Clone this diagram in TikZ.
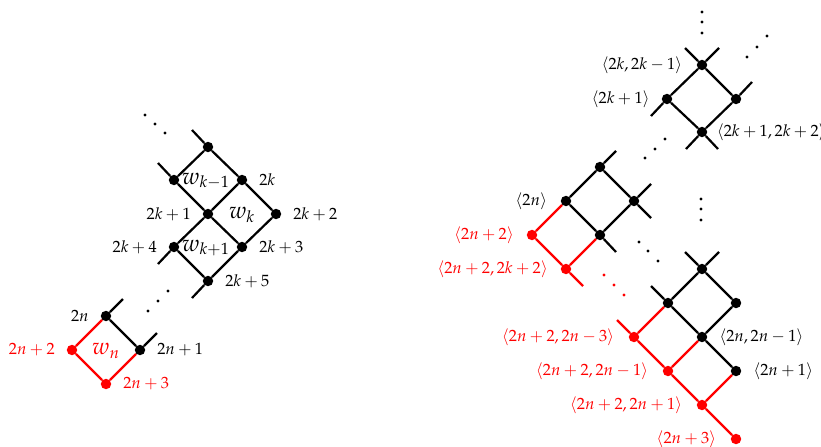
\documentclass[tikz,border=0pt]{standalone}
\usepackage{mathpazo}
\usepackage{xcolor}
\usepackage{tikz}
\usetikzlibrary{positioning}
\tikzset{
  vtx/.style={circle, fill=black, inner sep=0pt, minimum size=6.4pt},
  rvtx/.style={vtx, fill=red},
  lnk/.style={line width=1.35pt, draw=black},
  rlnk/.style={lnk, draw=red},
  tag/.style={inner sep=0pt, font=\normalsize},
  rtag/.style={tag, text=red},
  wlab/.style={inner sep=0pt, font=\Large},
}
\begin{document}
\begin{tikzpicture}[x=0.613pt, y=-0.613pt]

\useasboundingbox (0,0) rectangle (821,447);

%% =====================================================================
%% Left: chain of squares w_{k-1}, w_k, w_{k+1}, ..., w_n
%% =====================================================================
\node[vtx] (lA) at (208,147) {};
\node[vtx] (lB) at (174,180) {};
\node[vtx] (lC) at (242,180) {};
\node[vtx] (lD) at (208,214) {};
\node[vtx] (lE) at (276,214) {};
\node[vtx] (lF) at (174,247) {};
\node[vtx] (lG) at (242,247) {};
\node[vtx] (lH) at (208,281) {};

\node[tag, right=7pt of lC] (tC) {$2k$};
\node[tag, left=7pt of lD] (tD) {$2k+1$};
\node[tag, right=7pt of lE] (tE) {$2k+2$};
\node[tag, left=7pt of lF] (tF) {$2k+4$};
\node[tag, right=7pt of lG] (tG) {$2k+3$};
\node[tag, right=7pt of lH] (tH) {$2k+5$};

\node[wlab] (w1) at (206,181) {$w_{k-1}$};
\node[wlab] (w2) at (242,215) {$w_{k}$};
\node[wlab] (w3) at (206,248) {$w_{k+1}$};

\draw[lnk] (lA) -- (lB);
\draw[lnk] (lA) -- (lC);
\draw[lnk] (lB) -- (lD);
\draw[lnk] (lC) -- (lD);
\draw[lnk] (lC) -- (lE);
\draw[lnk] (lD) -- (lF);
\draw[lnk] (lD) -- (lG);
\draw[lnk] (lE) -- (lG);
\draw[lnk] (lF) -- (lH);
\draw[lnk] (lG) -- (lH);
\draw[lnk] (lA) -- ++(-16,-17);
\draw[lnk] (lB) -- ++(-16,-17);
\draw[lnk] (lF) -- ++(-16,17);
\draw[lnk] (lH) -- ++(-16,17);

\node[vtx] (lI) at (106,316) {};
\node[vtx] (lJ) at (140,350) {};
\node[rvtx] (lK) at (72,350) {};
\node[rvtx] (lL) at (106,384) {};

\node[tag, left=7pt of lI] (tI) {$2n$};
\node[tag, right=7pt of lJ] (tJ) {$2n+1$};
\node[rtag, left=7pt of lK] (tK) {$2n+2$};
\node[rtag, right=7pt of lL] (tL) {$2n+3$};
\node[wlab, text=red] (w4) at (106,351) {$w_{n}$};

\draw[lnk] (lI) -- (lJ);
\draw[lnk] (lI) -- ++(17,-17);
\draw[lnk] (lJ) -- ++(17,-17);
\draw[rlnk] (lI) -- (lK);
\draw[rlnk] (lK) -- (lL);
\draw[rlnk] (lJ) -- (lL);

\foreach \x/\y in {145/115,155/124,165/133, 148/311,158/301,168/291}
  \fill (\x,\y) circle (0.95pt);

%% =====================================================================
%% Right: pairs <i,j>, top block
%% =====================================================================
\node[vtx] (rA) at (702,65) {};
\node[vtx] (rB) at (667,99) {};
\node[vtx] (rC) at (736,99) {};
\node[vtx] (rD) at (702,132) {};

\node[tag, left=8.5pt of rA] (sA) {$\langle 2k, 2k-1\rangle$};
\node[tag, left=7pt of rB] (sB) {$\langle 2k+1\rangle$};
\node[tag, right=5.5pt of rD] (sD) {$\langle 2k+1, 2k+2\rangle$};

\draw[lnk] (rA) -- (rB);
\draw[lnk] (rA) -- (rC);
\draw[lnk] (rB) -- (rD);
\draw[lnk] (rC) -- (rD);
\draw[lnk] (rA) -- ++(-17,-17);
\draw[lnk] (rA) -- ++(17,-17);
\draw[lnk] (rB) -- ++(-16,17);
\draw[lnk] (rC) -- ++(16,-17);
\draw[lnk] (rD) -- ++(-16,17);
\draw[lnk] (rD) -- ++(16,17);

%% middle block
\node[vtx] (mA) at (600,167) {};
\node[vtx] (mB) at (566,201) {};
\node[vtx] (mC) at (634,201) {};
\node[vtx] (mD) at (600,235) {};
\node[rvtx] (mE) at (532,235) {};
\node[rvtx] (mF) at (566,269) {};

\node[tag, left=8pt of mB] (nB) {$\langle 2n\rangle$};
\node[rtag, left=7.5pt of mE] (nE) {$\langle 2n+2\rangle$};
\node[rtag, left=7.5pt of mF] (nF) {$\langle 2n+2, 2k+2\rangle$};

\draw[lnk] (mA) -- (mB);
\draw[lnk] (mA) -- (mC);
\draw[lnk] (mB) -- (mD);
\draw[lnk] (mC) -- (mD);
\draw[lnk] (mA) -- ++(16,-16);
\draw[lnk] (mC) -- ++(17,-17);
\draw[lnk] (mC) -- ++(17,17);
\draw[lnk] (mD) -- ++(16,17);
\draw[rlnk] (mB) -- (mE);
\draw[rlnk] (mE) -- (mF);
\draw[rlnk] (mD) -- (mF);
\draw[rlnk] (mF) -- ++(17,17);

%% bottom block
\node[vtx] (bA) at (702,269) {};
\node[vtx] (bB) at (668,303) {};
\node[vtx] (bC) at (736,303) {};
\node[vtx] (bD) at (702,337) {};
\node[vtx] (bE) at (736,371) {};
\node[rvtx] (bF) at (634,337) {};
\node[rvtx] (bG) at (668,371) {};
\node[rvtx] (bH) at (702,405) {};
\node[rvtx] (bI) at (736,439) {};

\node[tag, right=7pt of bD] (qD) {$\langle 2n, 2n-1\rangle$};
\node[tag, right=7pt of bE] (qE) {$\langle 2n+1\rangle$};
\node[rtag, left=8.5pt of bF] (qF) {$\langle 2n+2, 2n-3\rangle$};
\node[rtag, left=8.5pt of bG] (qG) {$\langle 2n+2, 2n-1\rangle$};
\node[rtag, left=8.5pt of bH] (qH) {$\langle 2n+2, 2n+1\rangle$};
\node[rtag, left=8.5pt of bI] (qI) {$\langle 2n+3\rangle$};

\draw[lnk] (bA) -- (bB);
\draw[lnk] (bA) -- (bC);
\draw[lnk] (bB) -- (bD);
\draw[lnk] (bC) -- (bD);
\draw[lnk] (bD) -- (bE);
\draw[lnk] (bA) -- ++(-17,-17);
\draw[lnk] (bA) -- ++(17,-17);
\draw[lnk] (bB) -- ++(-17,-17);
\draw[rlnk] (bB) -- (bF);
\draw[rlnk] (bF) -- (bG);
\draw[rlnk] (bD) -- (bG);
\draw[rlnk] (bG) -- (bH);
\draw[rlnk] (bE) -- (bH);
\draw[rlnk] (bH) -- (bI);
\draw[rlnk] (bF) -- ++(-17,-17);

%% dots
\foreach \x/\y in {702/12,702/22,702/33, 747/57,757/47,767/36,
                   645/158,655/149,665/139, 639/242,648/251,658/261,
                   701/199,701/209,701/220}
  \fill (\x,\y) circle (0.95pt);
\foreach \x/\y in {604/275,614/285,624/295}
  \fill[red] (\x,\y) circle (0.95pt);

\end{tikzpicture}
\end{document}
